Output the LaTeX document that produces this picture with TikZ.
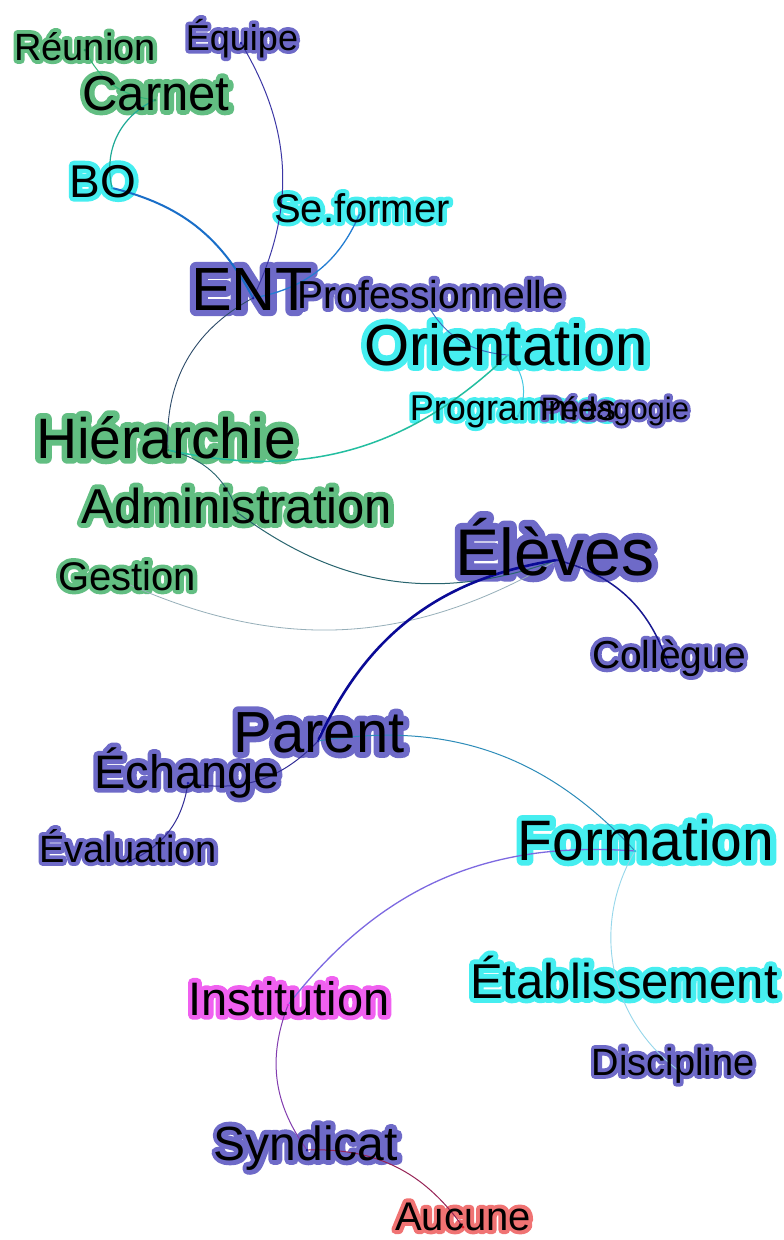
\documentclass[tikz,border=0pt]{standalone}
\usepackage{fontspec}
\setmainfont{Liberation Sans}
\newfontfamily\glowfont[FakeBold=20]{Liberation Sans}
\pgfdeclarelayer{bg}
\pgfdeclarelayer{glow}
\pgfdeclarelayer{edges}
\pgfsetlayers{bg,glow,edges,main}

\definecolor{gG}{RGB}{98,190,130}
\definecolor{gP}{RGB}{110,106,200}
\definecolor{gC}{RGB}{70,238,240}
\definecolor{gM}{RGB}{240,96,240}
\definecolor{gR}{RGB}{240,115,115}
\definecolor{dG}{RGB}{40,150,90}
\definecolor{dP}{RGB}{30,30,160}
\definecolor{dC}{RGB}{40,200,220}
\definecolor{dM}{RGB}{220,40,220}
\definecolor{dR}{RGB}{220,30,40}

\definecolor{eGreen}{RGB}{50,180,120}
\definecolor{eTeal}{RGB}{30,170,150}
\definecolor{eBlue}{RGB}{25,110,200}
\definecolor{eBlue2}{RGB}{35,125,210}
\definecolor{ePurp}{RGB}{60,55,165}
\definecolor{eSlate}{RGB}{45,75,105}
\definecolor{eDTeal}{RGB}{40,100,110}
\definecolor{eGray}{RGB}{150,175,185}
\definecolor{eSea}{RGB}{35,190,160}
\definecolor{eMid}{RGB}{60,110,190}
\definecolor{eCyan}{RGB}{70,200,225}
\definecolor{eNavy}{RGB}{10,10,150}
\definecolor{eNavy2}{RGB}{25,25,145}
\definecolor{eDPurp}{RGB}{50,45,150}
\definecolor{eTBlue}{RGB}{45,140,185}
\definecolor{eViolet}{RGB}{125,105,225}
\definecolor{ePale}{RGB}{150,215,235}
\definecolor{eMauve}{RGB}{130,60,175}
\definecolor{eWine}{RGB}{150,35,85}

\tikzset{
  lbl/.style={anchor=base, inner sep=0pt, text=black},
  glowlbl/.style={anchor=base, inner sep=0pt, line join=round},
  gdot/.style={circle, fill=#1, inner sep=0pt, minimum size=3pt},
  edge/.style={line cap=round},
}

\newcommand\wordlabel[6]{%
  \begin{pgfonlayer}{glow}
    \node[glowlbl, text=#5, font=\glowfont\fontsize{#4}{#4}\selectfont] at (#2,-#3) {#6};
  \end{pgfonlayer}
  \node[lbl, font=\fontsize{#4}{#4}\selectfont] (#1) at (#2,-#3) {#6};
}

\begin{document}
\begin{tikzpicture}[x=1pt,y=1pt]
\begin{pgfonlayer}{bg}
  \fill[white] (0,0) rectangle (784,-1240);
\end{pgfonlayer}
\useasboundingbox (0,0) rectangle (784,-1240);

% graph nodes (dots)
\begin{pgfonlayer}{edges}
\node[gdot=dG] (reunion) at (85,-50) {};
\node[gdot=dP] (equipe) at (241,-43) {};
\node[gdot=dG] (carnet) at (155,-100) {};
\node[gdot=dC] (bo) at (112,-188) {};
\node[gdot=dC] (seformer) at (360,-213) {};
\node[gdot=dP] (ent) at (253,-298) {};
\node[gdot=dP] (prof) at (426,-302) {};
\node[gdot=dC] (orient) at (508,-355) {};
\node[gdot=dC] (prog) at (518,-416) {};
\node[gdot=dP] (peda) at (615,-412) {};
\node[gdot=dG] (hier) at (168,-450) {};
\node[gdot=dG] (admin) at (238,-513) {};
\node[gdot=dG] (gestion) at (128,-584) {};
\node[gdot=dP] (eleves) at (557,-560) {};
\node[gdot=dP] (collegue) at (668,-664) {};
\node[gdot=dP] (parent) at (318,-741) {};
\node[gdot=dP] (echange) at (188,-783) {};
\node[gdot=dP] (evaluation) at (128,-862) {};
\node[gdot=dC] (formation) at (635,-851) {};
\node[gdot=dC] (etab) at (620,-992) {};
\node[gdot=dP] (discipline) at (682,-1073) {};
\node[gdot=dM] (institution) at (288,-1005) {};
\node[gdot=dP] (syndicat) at (307,-1150) {};
\node[gdot=dR] (aucune) at (463,-1227) {};

% connectors
\draw[edge, eGreen, line width=1pt] (reunion) to[bend right=28] (carnet);
\draw[edge, eTeal, line width=1.2pt] (carnet) to[bend right=38] (bo);
\draw[edge, eBlue, line width=2pt] (bo) to[bend left=24] (ent);
\draw[edge, ePurp, line width=1pt] (equipe) to[bend left=28] (ent);
\draw[edge, eBlue2, line width=1.3pt] (seformer) to[bend left=28] (ent);
\draw[edge, eSlate, line width=0.9pt] (ent) to[bend right=32] (hier);
\draw[edge, eDTeal, line width=0.9pt] (hier) to[bend left=28] (admin);
\draw[edge, eDTeal, line width=1pt] (admin) to[bend right=28] (eleves);
\draw[edge, eGray, line width=0.8pt] (gestion) to[bend right=27] (eleves);
\draw[edge, eSea, line width=1.5pt] (hier) to[bend right=28] (orient);
\draw[edge, eMid, line width=1pt] (prof) to[bend right=28] (orient);
\draw[edge, eCyan, line width=1pt] (orient) to[bend left=32] (prog);
\draw[edge, eNavy, line width=2.6pt] (eleves) to[bend right=28] (parent);
\draw[edge, eNavy2, line width=1.5pt] (eleves) to[bend left=28] (collegue);
\draw[edge, eDPurp, line width=1pt] (parent) to[bend left=28] (echange);
\draw[edge, eDPurp, line width=1pt] (echange) to[bend left=28] (evaluation);
\draw[edge, eTBlue, line width=1pt] (parent) to[bend left=28] (formation);
\draw[edge, eViolet, line width=1.3pt] (formation) to[bend right=28] (institution);
\draw[edge, ePale, line width=0.9pt] (formation) to[bend right=42] (discipline);
\draw[edge, eMauve, line width=1pt] (institution) to[bend right=28] (syndicat);
\draw[edge, eWine, line width=1pt] (syndicat) to[bend left=28] (aucune);
\end{pgfonlayer}

% labels
\wordlabel{reunion-l}{85}{60}{38}{gG}{Réunion}
\wordlabel{equipe-l}{242}{50}{36}{gP}{Équipe}
\wordlabel{carnet-l}{156}{110}{49}{gG}{Carnet}
\wordlabel{bo-l}{103}{197}{46}{gC}{BO}
\wordlabel{seformer-l}{362}{222}{40}{gC}{Se.former}
\wordlabel{ent-l}{252}{310}{61}{gP}{ENT}
\wordlabel{prof-l}{431}{308}{39}{gP}{Professionnelle}
\wordlabel{orient-l}{506}{365}{58}{gC}{Orientation}
\wordlabel{prog-l}{513}{420}{36}{gC}{Programmes}
\wordlabel{peda-l}{615}{419}{31}{gP}{Pédagogie}
\wordlabel{hier-l}{166}{458}{57}{gG}{Hiérarchie}
\wordlabel{admin-l}{237}{523}{49}{gG}{Administration}
\wordlabel{gestion-l}{127}{590}{40}{gG}{Gestion}
\wordlabel{eleves-l}{555}{575}{66}{gP}{Élèves}
\wordlabel{collegue-l}{669}{668}{39}{gP}{Collègue}
\wordlabel{parent-l}{319}{752}{58}{gP}{Parent}
\wordlabel{echange-l}{187}{788}{47}{gP}{Échange}
\wordlabel{evaluation-l}{128}{862}{38}{gP}{Évaluation}
\wordlabel{formation-l}{646}{860}{57}{gC}{Formation}
\wordlabel{etab-l}{624}{998}{49}{gC}{Établissement}
\wordlabel{discipline-l}{673}{1075}{38}{gP}{Discipline}
\wordlabel{institution-l}{289}{1015}{47}{gM}{Institution}
\wordlabel{syndicat-l}{306}{1160}{48}{gP}{Syndicat}
\wordlabel{aucune-l}{463}{1230}{40}{gR}{Aucune}
\end{tikzpicture}
\end{document}
